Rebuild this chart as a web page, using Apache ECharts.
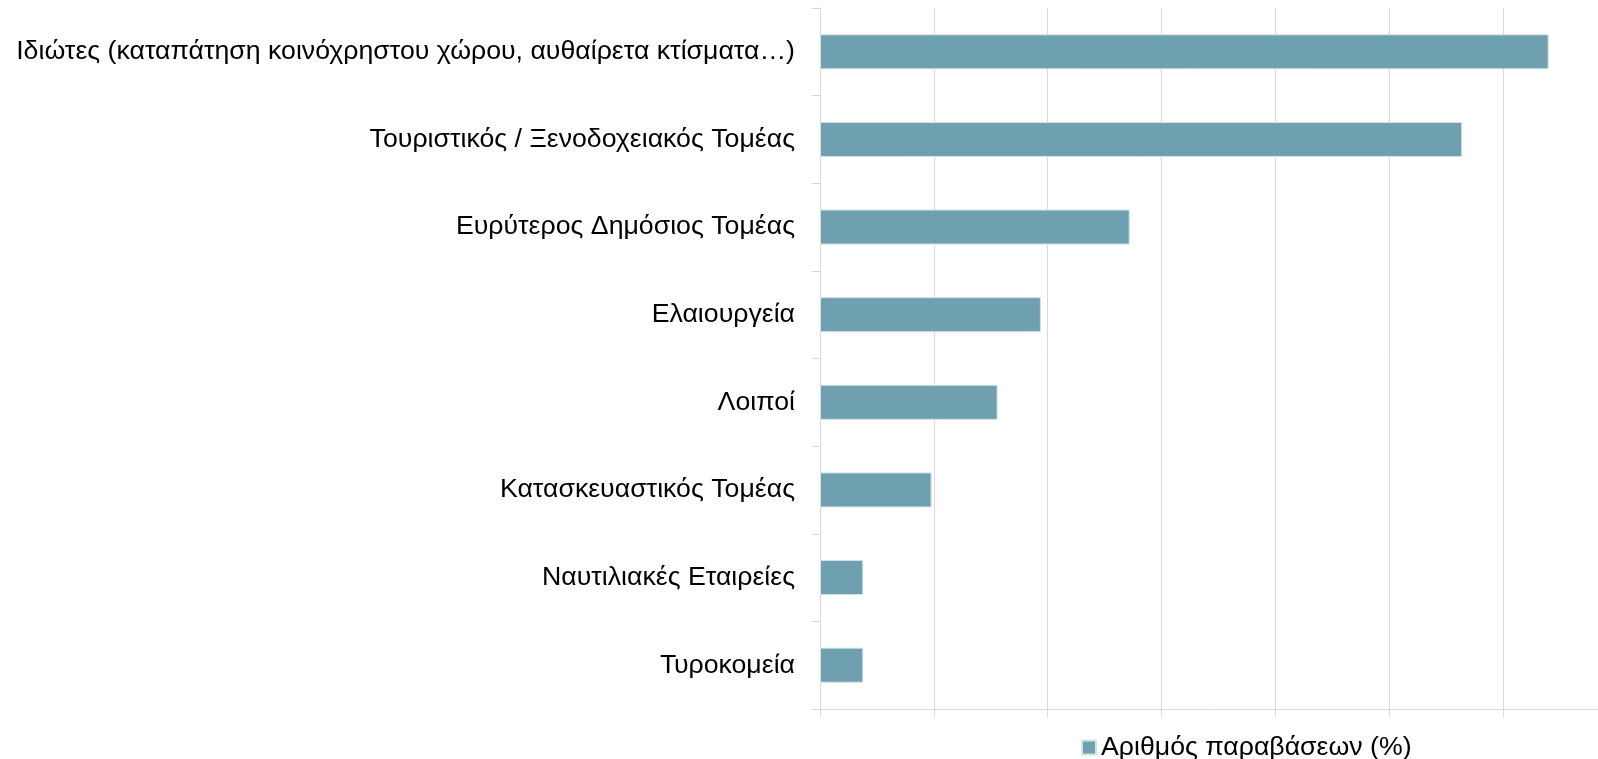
<!DOCTYPE html>
<html>
<head>
<meta charset="utf-8">
<title>Αριθμός παραβάσεων</title>
<script src="https://cdn.jsdelivr.net/npm/echarts@6/dist/echarts.min.js"></script>
<style>
    html, body { margin: 0; padding: 0; background: #fff; }
    #chart { width: 1598px; height: 759px; }
</style>
</head>
<body>
<div id="chart"></div>
<script>
// categories, top to bottom
const categories = [
    'Ιδιώτες (καταπάτηση κοινόχρηστου χώρου, αυθαίρετα κτίσματα…)',
    'Τουριστικός / Ξενοδοχειακός Τομέας',
    'Ευρύτερος Δημόσιος Τομέας',
    'Ελαιουργεία',
    'Λοιποί',
    'Κατασκευαστικός Τομέας',
    'Ναυτιλιακές Εταιρείες',
    'Τυροκομεία'
];
const seriesName = 'Αριθμός παραβάσεων (%)';
const values = [32.0, 28.2, 13.6, 9.7, 7.8, 4.9, 1.9, 1.9];

const font = '"Liberation Sans", Arial, sans-serif';
const gridColor = '#d9d9d9';

const chart = echarts.init(document.getElementById('chart'));

chart.setOption({
    animation: false,
    textStyle: { fontFamily: font },
    grid: {
        left: 820,
        top: 8,
        height: 701,
        width: 797,   // plot runs past the right edge, last gridline is cut off
        outerBoundsMode: 'none'
    },
    legend: {
        left: 1076,
        top: 729,
        itemWidth: 14,
        itemHeight: 14,
        icon: 'rect',
        textStyle: { fontSize: 26.7, color: '#000', fontFamily: font },
        data: [seriesName]
    },
    xAxis: {
        type: 'value',
        min: 0,
        max: 35,
        interval: 5,
        axisLine: { show: true, lineStyle: { color: gridColor, width: 1 } },
        axisTick: { show: true, length: 8, lineStyle: { color: gridColor } },
        axisLabel: { show: false },
        splitLine: { show: true, lineStyle: { color: gridColor, width: 1 } }
    },
    yAxis: {
        type: 'category',
        inverse: true,
        data: categories,
        axisLine: { show: true, lineStyle: { color: gridColor, width: 1 } },
        axisTick: { show: true, length: 8, lineStyle: { color: gridColor } },
        axisLabel: { margin: 25, fontSize: 26.7, color: '#000', fontFamily: font }
    },
    series: [{
        name: seriesName,
        type: 'bar',
        data: values,
        barWidth: '40%',
        itemStyle: {
            color: '#6fa0b0',
            borderColor: '#d3e3e8',
            borderWidth: 1
        }
    }]
});
</script>
</body>
</html>
